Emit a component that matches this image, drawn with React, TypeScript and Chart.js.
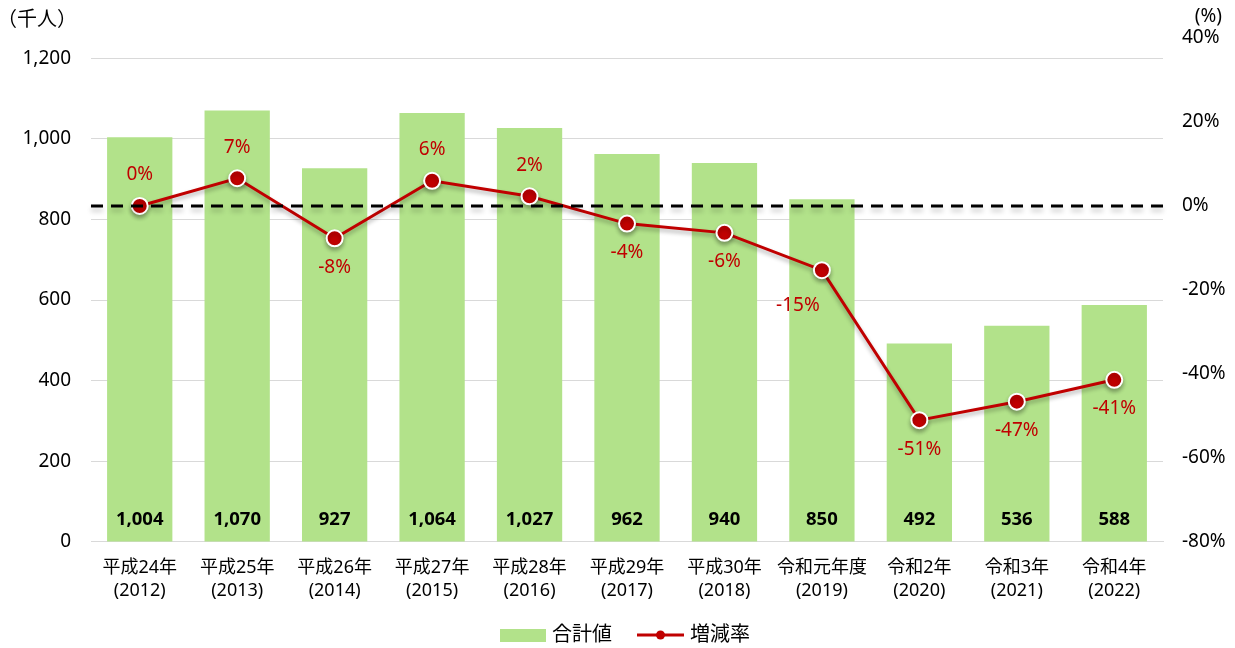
import React, { useEffect, useRef } from 'react';
import { Chart, registerables } from 'chart.js';

Chart.register(...registerables);

const categories: string[][] = [
  ['平成24年', '(2012)'],
  ['平成25年', '(2013)'],
  ['平成26年', '(2014)'],
  ['平成27年', '(2015)'],
  ['平成28年', '(2016)'],
  ['平成29年', '(2017)'],
  ['平成30年', '(2018)'],
  ['令和元年度', '(2019)'],
  ['令和2年', '(2020)'],
  ['令和3年', '(2021)'],
  ['令和4年', '(2022)'],
];
const totals = [1004, 1070, 927, 1064, 1027, 962, 940, 850, 492, 536, 588];
const rates = [0, 6.6, -7.7, 6.0, 2.3, -4.2, -6.4, -15.3, -51.0, -46.6, -41.4];
const rateLabelSide = ['above', 'above', 'below', 'above', 'above', 'below', 'below', 'belowLeft', 'below', 'below', 'below'];

const leftAxisMax = 1250;
const leftTickValues = [0, 200, 400, 600, 800, 1000, 1200];
const rightTickValues = [-80, -60, -40, -20, 0, 20, 40];

const BAR = '#b2e28a';
const RED = '#c00000';
const FONT = "'Noto Sans', 'Noto Sans CJK JP', sans-serif";

const overlayPlugin = {
  id: 'overlay',
  beforeDatasetsDraw(chart: any) {
    const { ctx } = chart;
    const lineMeta = chart.getDatasetMeta(1);
    ctx.save();
    ctx.strokeStyle = '#a6a6a6';
    ctx.lineWidth = 1.2;
    lineMeta.data.forEach((el: any, i: number) => {
      const side = rateLabelSide[i];
      if (side === 'belowLeft') {
        ctx.beginPath();
        ctx.moveTo(el.x, el.y);
        ctx.lineTo(el.x - 25, el.y + 18);
        ctx.stroke();
      } else if (side === 'below' && i !== 5 && i !== 6 && i !== 10) {
        ctx.beginPath();
        ctx.moveTo(el.x, el.y);
        ctx.lineTo(el.x - 1, el.y + 12);
        ctx.stroke();
      }
    });
    ctx.restore();
  },
  afterDatasetsDraw(chart: any) {
    const { ctx, chartArea, scales } = chart;
    const zy = scales.y1.getPixelForValue(0);
    ctx.save();
    ctx.shadowColor = 'rgba(0,0,0,0.22)';
    ctx.shadowBlur = 5;
    ctx.shadowOffsetY = 4;
    ctx.strokeStyle = '#000';
    ctx.lineWidth = 3;
    ctx.setLineDash([12, 8]);
    ctx.beginPath();
    ctx.moveTo(chartArea.left, zy);
    ctx.lineTo(chartArea.right, zy);
    ctx.stroke();
    ctx.restore();
  },
  afterDraw(chart: any) {
    const { ctx, chartArea } = chart;
    ctx.save();
    const barMeta = chart.getDatasetMeta(0);
    ctx.font = `bold 18.5px ${FONT}`;
    ctx.fillStyle = '#000';
    ctx.textAlign = 'center';
    ctx.textBaseline = 'middle';
    barMeta.data.forEach((el: any, i: number) => {
      ctx.fillText(totals[i].toLocaleString('en-US'), el.x, chartArea.bottom - 22);
    });
    const lineMeta = chart.getDatasetMeta(1);
    ctx.font = `19px ${FONT}`;
    ctx.fillStyle = RED;
    lineMeta.data.forEach((el: any, i: number) => {
      const side = rateLabelSide[i];
      let dx = 0;
      let dy = side === 'above' ? -31 : 29;
      if (side === 'belowLeft') { dx = -24; dy = 35; }
      ctx.fillText(`${Math.round(rates[i])}%`, el.x + dx, el.y + dy);
    });
    ctx.fillStyle = '#000';
    ctx.font = `20px ${FONT}`;
    ctx.textAlign = 'left';
    ctx.fillText('（千人）', -3, 20);
    ctx.font = `19px ${FONT}`;
    ctx.textAlign = 'right';
    ctx.fillText('(%)', 1222, 17);
    const ly = 635;
    ctx.fillStyle = BAR;
    ctx.fillRect(500, ly - 6, 46, 13);
    ctx.fillStyle = '#000';
    ctx.font = `20px ${FONT}`;
    ctx.textAlign = 'left';
    ctx.fillText('合計値', 552, ly);
    ctx.strokeStyle = RED;
    ctx.lineWidth = 3;
    ctx.beginPath();
    ctx.moveTo(637, ly);
    ctx.lineTo(684, ly);
    ctx.stroke();
    ctx.fillStyle = RED;
    ctx.beginPath();
    ctx.arc(660.5, ly, 4.5, 0, Math.PI * 2);
    ctx.fill();
    ctx.fillStyle = '#000';
    ctx.fillText('増減率', 690, ly);
    ctx.restore();
  },
};

const lineShadowPlugin = {
  id: 'lineShadow',
  beforeDatasetDraw(chart: any, args: any) {
    if (args.index === 1) {
      const ctx = chart.ctx;
      ctx.save();
      ctx.shadowColor = 'rgba(0,0,0,0.3)';
      ctx.shadowBlur = 4;
      ctx.shadowOffsetY = 3;
    }
  },
  afterDatasetDraw(chart: any, args: any) {
    if (args.index === 1) chart.ctx.restore();
  },
};

export default function App() {
  const ref = useRef<HTMLCanvasElement>(null);
  useEffect(() => {
    const chart = new Chart(ref.current as HTMLCanvasElement, {
      type: 'bar',
      data: {
        labels: categories,
        datasets: [
          {
            type: 'bar',
            label: '合計値',
            data: totals,
            backgroundColor: BAR,
            categoryPercentage: 1,
            barPercentage: 0.67,
            yAxisID: 'y',
            order: 2,
          },
          {
            type: 'line',
            label: '増減率',
            data: rates,
            borderColor: RED,
            borderWidth: 3,
            pointRadius: 8,
            pointBackgroundColor: RED,
            pointBorderColor: '#fff',
            pointBorderWidth: 2,
            yAxisID: 'y1',
            order: 1,
          } as any,
        ],
      },
      options: {
        responsive: false,
        animation: false,
        layout: { padding: { left: 23, right: 10, top: 38, bottom: 40 } },
        plugins: { legend: { display: false }, tooltip: { enabled: false } },
        scales: {
          x: {
            grid: { display: false },
            border: { color: '#d9d9d9', width: 1 },
            ticks: { color: '#000', font: { family: FONT, size: 18, lineHeight: 1.28 }, padding: 6, maxRotation: 0 },
          },
          y: {
            position: 'left',
            min: 0,
            max: leftAxisMax,
            afterBuildTicks: (scale: any) => {
              scale.ticks = leftTickValues.map((v) => ({ value: v }));
            },
            afterFit: (scale: any) => {
              scale.width = 68;
            },
            ticks: {
              color: '#000',
              font: { family: FONT, size: 19 },
              padding: 20,
              callback: (v: any) => Number(v).toLocaleString('en-US'),
            },
            grid: { color: '#d9d9d9', lineWidth: 1, drawTicks: false },
            border: { display: false },
          },
          y1: {
            position: 'right',
            min: rightTickValues[0],
            max: rightTickValues[rightTickValues.length - 1],
            afterBuildTicks: (scale: any) => {
              scale.ticks = rightTickValues.map((v) => ({ value: v }));
            },
            afterFit: (scale: any) => {
              scale.width = 62;
            },
            ticks: {
              color: '#000',
              font: { family: FONT, size: 19 },
              padding: 19,
              callback: (v: any) => `${v}%`,
            },
            grid: { display: false, drawTicks: false },
            border: { display: false },
          },
        },
      },
      plugins: [overlayPlugin, lineShadowPlugin],
    });
    return () => chart.destroy();
  }, []);
  return (
    <div style={{ position: 'absolute', left: 0, top: 0, width: 1235, height: 648, background: '#fff' }}>
      <canvas ref={ref} width={1235} height={648} style={{ display: 'block' }} />
    </div>
  );
}
